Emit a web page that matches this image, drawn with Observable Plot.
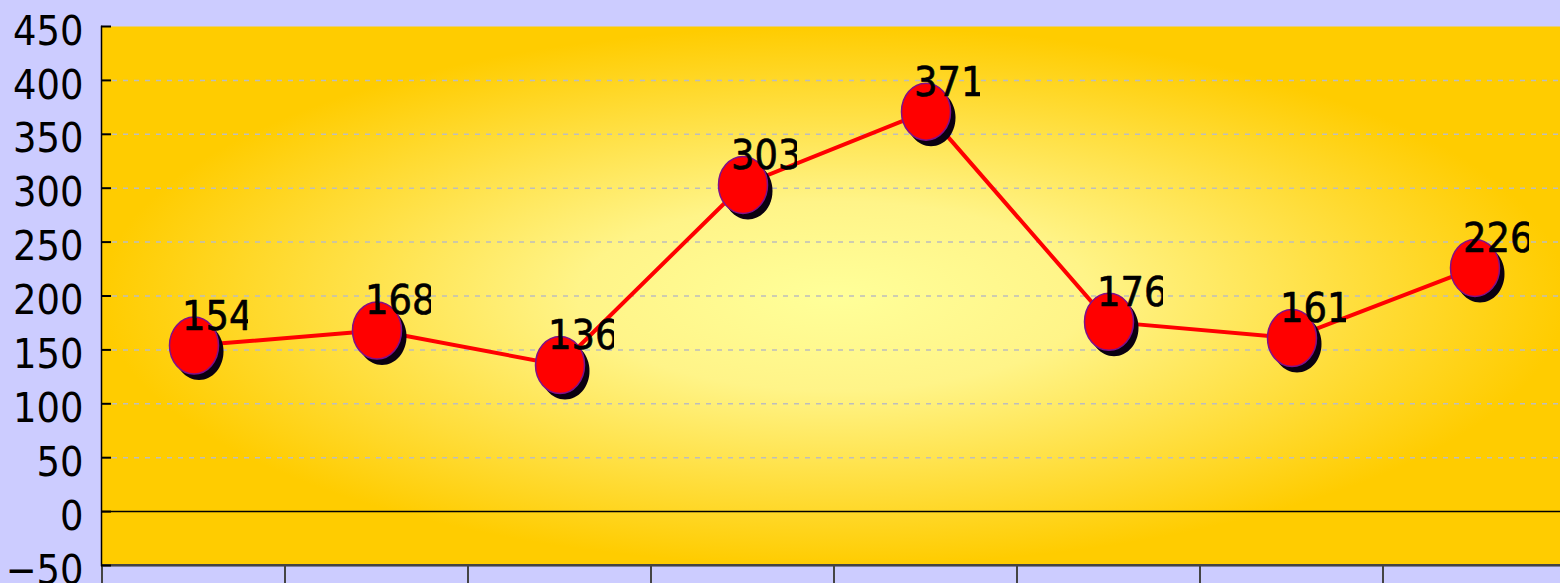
<!DOCTYPE html>
<html>
<head>
<meta charset="utf-8">
<script src="https://cdn.jsdelivr.net/npm/d3@7"></script>
<script src="https://cdn.jsdelivr.net/npm/@observablehq/plot@0.6"></script>
<style>
  html, body { margin: 0; padding: 0; background: #ccccff; }
  #chart svg { display: block; }
</style>
</head>
<body>
<div id="chart"></div>
<script>
// ---- data ----
const categories = ["1", "2", "3", "4", "5", "6", "7", "8"];
const values = [154, 168, 136, 303, 371, 176, 161, 226];
const yTicks = [-50, 0, 50, 100, 150, 200, 250, 300, 350, 400, 450];
const gridTicks = [50, 100, 150, 200, 250, 300, 350, 400];
const yDomain = [-50, 450];

const data = categories.map((c, i) => ({cat: c, value: values[i]}));

// ellipse symbol (taller than wide)
const ellipse = {
  draw(ctx, size) {
    const r = Math.sqrt(size / Math.PI);
    const ry = r, rx = r * 0.86, k = 0.5523;
    const kx = rx * k, ky = ry * k;
    ctx.moveTo(rx, 0);
    ctx.bezierCurveTo(rx, ky, kx, ry, 0, ry);
    ctx.bezierCurveTo(-kx, ry, -rx, ky, -rx, 0);
    ctx.bezierCurveTo(-rx, -ky, -kx, -ry, 0, -ry);
    ctx.bezierCurveTo(kx, -ry, rx, -ky, rx, 0);
    ctx.closePath();
  }
};

const font = "'DejaVu Sans Condensed', 'DejaVu Sans', sans-serif";

const svg = Plot.plot({
  width: 1560,
  height: 583,
  marginLeft: 101,
  marginRight: -6,
  marginTop: 26,
  marginBottom: 18,
  style: {background: "#ccccff", color: "black", fontFamily: font, overflow: "hidden"},
  x: {type: "band", domain: categories, padding: 0, axis: null},
  y: {domain: yDomain, ticks: yTicks, axis: null, label: null},
  marks: [
    Plot.frame({fill: "url(#bgGrad)", stroke: null}),
    Plot.ruleY(gridTicks, {stroke: "#bdbdbd", strokeWidth: 1.5, strokeDasharray: "5,6"}),
    Plot.ruleY([0], {stroke: "black", strokeWidth: 1.5}),
    Plot.ruleY([yDomain[0]], {stroke: "#333", strokeWidth: 2}),
    Plot.barY(categories, {x: d => d, y1: yDomain[0], y2: yDomain[0] - 40, fill: "none", stroke: "#444", strokeWidth: 2}),
    Plot.frame({anchor: "left", stroke: "black", strokeWidth: 1.5}),
    Plot.axisY({ticks: yTicks, label: null, tickSize: 0, tickPadding: 18, dy: 5, fontSize: 41, fontFamily: font,
      fill: "black", stroke: "black", strokeWidth: 0.6}),
    Plot.axisY({ticks: yTicks, label: null, tickSize: -10, text: null, stroke: "black", strokeWidth: 2}),
    Plot.line(data, {x: "cat", y: "value", stroke: "red", strokeWidth: 4}),
    Plot.dot(data, {x: "cat", y: "value", r: 28.5, symbol: ellipse, fill: "#0a0010", stroke: "none", dx: 5, dy: 6}),
    Plot.dot(data, {x: "cat", y: "value", r: 28.5, symbol: ellipse, fill: "red", stroke: "#80108a", strokeWidth: 1.5}),
    Plot.text(data, {x: "cat", y: "value", text: d => String(d.value), textAnchor: "start", lineAnchor: "bottom",
      dx: -12, dy: -16, fontSize: 41, fontFamily: font, fill: "black", stroke: "black", strokeWidth: 0.6})
  ]
});

// gradient definition
const ns = "http://www.w3.org/2000/svg";
const defs = document.createElementNS(ns, "defs");
defs.innerHTML = `
  <radialGradient id="bgGrad" cx="0.5" cy="0.5" r="0.5" fx="0.5" fy="0.5">
    <stop offset="0" stop-color="#ffff99"/>
    <stop offset="0.35" stop-color="#fff488"/>
    <stop offset="1" stop-color="#ffcc00"/>
  </radialGradient>`;
svg.insertBefore(defs, svg.firstChild);

// clip each value label to a fixed-width box (as in the original)
let n = 0;
svg.querySelectorAll('g[aria-label="text"] text').forEach(t => {
  const x = +t.getAttribute("x"), y = +t.getAttribute("y");
  const id = "lblclip" + (n++);
  const cp = document.createElementNS(ns, "clipPath");
  cp.setAttribute("id", id);
  cp.setAttribute("clipPathUnits", "userSpaceOnUse");
  const r = document.createElementNS(ns, "rect");
  r.setAttribute("x", x - 4);
  r.setAttribute("y", y - 60);
  r.setAttribute("width", 70);
  r.setAttribute("height", 75);
  cp.appendChild(r);
  defs.appendChild(cp);
  t.setAttribute("clip-path", `url(#${id})`);
});

document.getElementById("chart").appendChild(svg);
</script>
</body>
</html>
